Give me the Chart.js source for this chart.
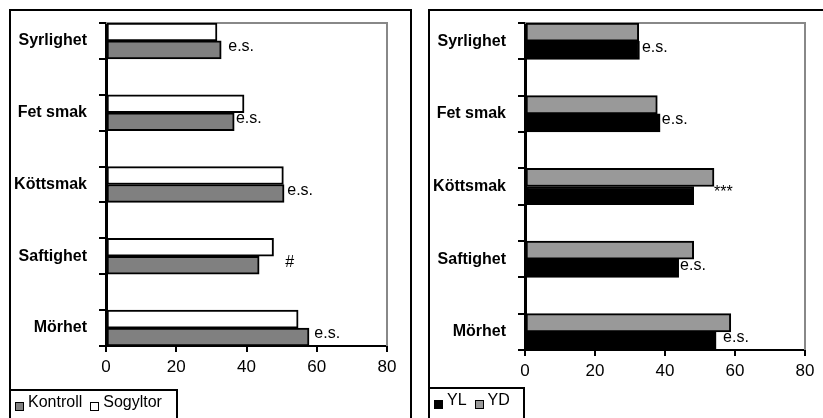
<!DOCTYPE html>
<html>
<head>
<meta charset="utf-8">
<script src="https://cdn.jsdelivr.net/npm/chart.js@4.4.1/dist/chart.umd.min.js"></script>
<style>
    body { margin: 0; background: #fff; width: 823px; height: 418px; overflow: hidden; position: relative; font-family: 'Liberation Sans', Arial, sans-serif; }
    .frame { position: absolute; box-sizing: border-box; border: 2px solid #000; }
    canvas { position: absolute; top: 0; }
    .legend { position: absolute; box-sizing: border-box; border: 2px solid #000; display: flex; align-items: flex-start; padding: 0 0 0 4px; font-size: 16px; color: #000; }
    .legend .item { display: flex; align-items: flex-end; margin-right: 8px; line-height: 18px; }
    .legend .swatch { width: 7px; height: 7px; border: 1.5px solid #000; margin: 0 4px 0 0; }
</style>
</head>
<body>
<div class="frame" style="left:9px;top:9px;width:403px;height:480px"></div>
<div class="frame" style="left:428px;top:9px;width:500px;height:480px"></div>
<canvas id="leftChart" width="412" height="418" style="left:0"></canvas>
<canvas id="rightChart" width="411" height="418" style="left:412px"></canvas>
<div class="legend" id="leftLegend" style="left:9px;top:389px;width:169px;height:60px;padding-top:2px"></div>
<div class="legend" id="rightLegend" style="left:428px;top:387px;width:97px;height:60px;padding-top:2px"></div>

<script>
// Kategorier (uppifrån och ned)
const categories = ['Syrlighet', 'Fet smak', 'Köttsmak', 'Saftighet', 'Mörhet'];
const xTicks = [0, 20, 40, 60, 80];

// Vänster diagram
const kontroll = [32.8, 36.5, 50.7, 43.6, 57.8];
const sogyltor = [31.6, 39.3, 50.5, 47.7, 54.7];
const leftNotes = ['e.s.', 'e.s.', 'e.s.', '#', 'e.s.'];
const leftNoteAt = [34.8, 37.0, 51.6, 51.0, 59.3];

// Höger diagram
const yl = [32.7, 38.6, 48.2, 43.9, 54.6];
const yd = [32.5, 37.8, 54.0, 48.2, 58.8];
const rightNotes = ['e.s.', 'e.s.', '***', 'e.s.', 'e.s.'];
const rightNoteAt = [33.4, 39.1, 54.0, 44.3, 56.6];

const FONT = "'Liberation Sans', Arial, sans-serif";

// tom kategori mellan varje stapelgrupp
function spaced(arr, filler) {
    const out = [];
    arr.forEach((v, i) => {
        if (i) out.push(filler);
        out.push(v);
    });
    return out;
}

const plotFrame = {
    id: 'plotFrame',
    beforeDatasetsDraw(chart) {
        const { ctx, chartArea: a } = chart;
        ctx.save();
        ctx.strokeStyle = '#888';
        ctx.lineWidth = 2;
        ctx.beginPath();
        ctx.moveTo(a.left, a.top);
        ctx.lineTo(a.right, a.top);
        ctx.lineTo(a.right, a.bottom);
        ctx.stroke();
        ctx.restore();
    }
};

const notesPlugin = {
    id: 'notes',
    afterDatasetsDraw(chart, args, opts) {
        const ctx = chart.ctx;
        const xScale = chart.scales.x;
        const lower = chart.getDatasetMeta(1).data;
        ctx.save();
        ctx.fillStyle = '#000';
        ctx.font = '16px ' + FONT;
        ctx.textAlign = 'left';
        ctx.textBaseline = 'middle';
        opts.texts.forEach((t, i) => {
            const bar = lower[i * 2];
            ctx.fillText(t, xScale.getPixelForValue(opts.at[i]), bar.y - 3);
        });
        ctx.restore();
    }
};

function makeChart(id, series, notes, noteAt, area) {
    const ctx = document.getElementById(id).getContext('2d');
    return new Chart(ctx, {
        type: 'bar',
        data: {
            labels: spaced(categories, ''),
            datasets: series.map(s => ({
                label: s.label,
                data: spaced(s.data, null),
                backgroundColor: s.color,
                borderColor: '#000',
                borderWidth: 2,
                borderSkipped: false,
                barPercentage: 1,
                categoryPercentage: 1
            }))
        },
        options: {
            indexAxis: 'y',
            responsive: false,
            animation: false,
            layout: { padding: { top: area.top, right: area.right, bottom: area.bottom, left: 0 } },
            plugins: {
                legend: { display: false },
                tooltip: { enabled: false },
                notes: { texts: notes, at: noteAt }
            },
            scales: {
                x: {
                    type: 'linear',
                    min: 0,
                    max: 80,
                    afterBuildTicks: s => { s.ticks = xTicks.map(v => ({ value: v })); },
                    afterFit: s => { s.height = 30; },
                    border: { display: true, color: '#000', width: 2 },
                    grid: { drawOnChartArea: false, drawTicks: true, tickLength: 6, color: '#000', lineWidth: 2 },
                    ticks: { color: '#000', padding: 5, font: { family: FONT, size: 17 } }
                },
                y: {
                    offset: true,
                    afterFit: s => { s.width = area.left; },
                    border: { display: true, color: '#000', width: 3 },
                    grid: { offset: true, drawOnChartArea: false, drawTicks: true, tickLength: 7, color: '#000', lineWidth: 2 },
                    ticks: { color: '#000', padding: 12, autoSkip: false, font: { family: FONT, size: 16, weight: 'bold' } }
                }
            }
        },
        plugins: [plotFrame, notesPlugin]
    });
}

function makeLegend(id, items) {
    const box = document.getElementById(id);
    box.innerHTML = items.map(it => `
        <div class="item">
            <span class="swatch" style="background:${it.color}"></span>
            <span>${it.label}</span>
        </div>
    `).join('');
}

// staplar i ordning uppifrån: första dataset ligger överst
makeChart('leftChart', [
    { label: 'Sogyltor', data: sogyltor, color: '#ffffff' },
    { label: 'Kontroll', data: kontroll, color: '#808080' }
], leftNotes, leftNoteAt, { left: 106, top: 23, right: 25, bottom: 42 });

makeChart('rightChart', [
    { label: 'YD', data: yd, color: '#999999' },
    { label: 'YL', data: yl, color: '#000000' }
], rightNotes, rightNoteAt, { left: 113, top: 23, right: 18, bottom: 38 });

makeLegend('leftLegend', [
    { label: 'Kontroll', color: '#808080' },
    { label: 'Sogyltor', color: '#ffffff' }
]);
makeLegend('rightLegend', [
    { label: 'YL', color: '#000000' },
    { label: 'YD', color: '#999999' }
]);
</script>
</body>
</html>
